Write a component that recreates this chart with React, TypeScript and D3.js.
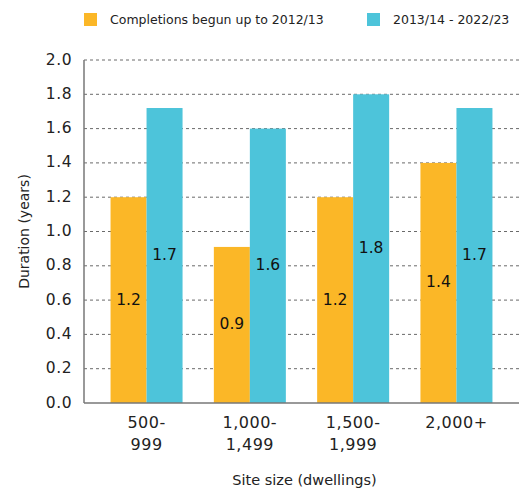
import React from "react";
import * as d3 from "d3";

const categories = ["500-\n999", "1,000-\n1,499", "1,500-\n1,999", "2,000+"];
const seriesNames = ["Completions begun up to 2012/13", "2013/14 - 2022/23"];
const beforeValues = [1.2, 0.91, 1.2, 1.4];
const afterValues = [1.72, 1.6, 1.8, 1.72];
const beforeLabels = ["1.2", "0.9", "1.2", "1.4"];
const afterLabels = ["1.7", "1.6", "1.8", "1.7"];
const yTicks = [0, 0.2, 0.4, 0.6, 0.8, 1.0, 1.2, 1.4, 1.6, 1.8, 2.0];
const colors = ["#FBB727", "#4DC4DA"];

const W = 522;
const H = 493;
const left = 84;
const right = 519;
const top = 60;
const bottom = 403;
const font = "'DejaVu Sans', 'Liberation Sans', sans-serif";

export default function App() {
  const x = d3
    .scaleBand<string>()
    .domain(categories)
    .range([left, right])
    .paddingInner(0.303)
    .paddingOuter(0.257);
  const y = d3.scaleLinear().domain([0, 2]).range([bottom, top]);
  const bw = x.bandwidth() / 2;
  const series = [
    { values: beforeValues, labels: beforeLabels },
    { values: afterValues, labels: afterLabels },
  ];
  return (
    <svg width={W} height={H} style={{ position: "absolute", left: 0, top: 0 }} fontFamily={font}>
      {seriesNames.map((n, i) => {
        const lx = i === 0 ? 84 : 367;
        return (
          <g key={n}>
            <rect x={lx} y={13} width={13} height={13} fill={colors[i]} />
            <text x={lx + 26} y={20} dominantBaseline="middle" fontSize={12.5} fill="#222">
              {n}
            </text>
          </g>
        );
      })}
      {yTicks.map((t) =>
        t === 0 ? null : (
          <line key={t} x1={left} x2={right} y1={y(t)} y2={y(t)} stroke="#444" strokeWidth={0.8} strokeDasharray="3,3" />
        )
      )}
      {yTicks.map((t) => (
        <text key={"l" + t} x={72} y={y(t)} textAnchor="end" dominantBaseline="middle" fontSize={15.5} fill="#222" letterSpacing={0.5}>
          {d3.format(".1f")(t)}
        </text>
      ))}
      {series.map((s, si) =>
        categories.map((c, ci) => {
          const bx = (x(c) as number) + si * bw;
          const by = y(s.values[ci]);
          return (
            <g key={si + "-" + ci}>
              <rect x={bx} y={by} width={bw} height={bottom - by} fill={colors[si]} />
              <text
                x={bx + bw / 2}
                y={(by + bottom) / 2}
                textAnchor="middle"
                dominantBaseline="middle"
                fontSize={15.5}
                fill="#111"
              >
                {s.labels[ci]}
              </text>
            </g>
          );
        })
      )}
      <line x1={left} x2={left} y1={top} y2={bottom} stroke="#777" strokeWidth={1.5} />
      <line x1={left} x2={right} y1={bottom} y2={bottom} stroke="#777" strokeWidth={1.5} />
      {categories.map((c) => {
        const cx = (x(c) as number) + x.bandwidth() / 2;
        return c.split("\n").map((line, li) => (
          <text key={c + li} x={cx} y={423 + li * 22} textAnchor="middle" dominantBaseline="middle" fontSize={16} fill="#222" letterSpacing={0.5}>
            {line}
          </text>
        ));
      })}
      <text x={(left + right) / 2 + 3} y={481} textAnchor="middle" dominantBaseline="middle" fontSize={14.5} fill="#222">
        Site size (dwellings)
      </text>
      <text
        transform={`translate(25,${(top + bottom) / 2}) rotate(-90)`}
        textAnchor="middle"
        dominantBaseline="middle"
        fontSize={14}
        fill="#222"
      >
        Duration (years)
      </text>
    </svg>
  );
}
